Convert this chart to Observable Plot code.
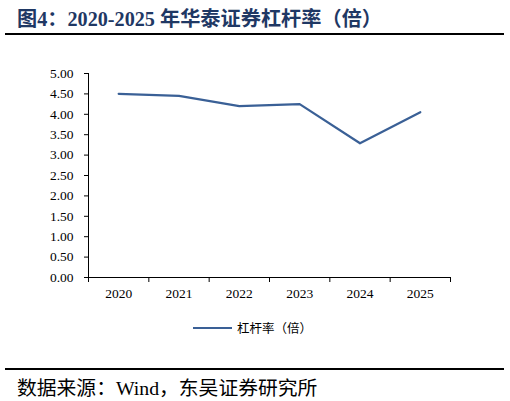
<!DOCTYPE html>
<html>
<head>
<meta charset="utf-8">
<script src="https://cdn.jsdelivr.net/npm/d3@7"></script>
<script src="https://cdn.jsdelivr.net/npm/@observablehq/plot@0.6"></script>
<style>
  body { margin: 0; background: #fff; }
  #page { position: relative; width: 510px; height: 401px; overflow: hidden; font-family: "Liberation Serif", "Noto Sans CJK SC", serif; }
  #titulo { position: absolute; left: 17px; top: 3px; font-size: 20.2px; font-weight: bold; color: #1f3864; font-family: "Liberation Serif", "Noto Sans CJK SC", serif; white-space: nowrap; }
  .regla { position: absolute; left: 5px; width: 499px; height: 2px; background: #000; }
  #grafico { position: absolute; left: 0; top: 40px; }
  #leyenda { position: absolute; left: 193px; top: 318px; font-size: 12.5px; font-family: "Noto Sans CJK SC", sans-serif; display: flex; align-items: center; white-space: nowrap; }
  #leyenda span.linea { display: inline-block; width: 39px; height: 2px; background: #3a6096; margin-right: 5px; }
  #fuente { position: absolute; left: 17px; top: 372px; font-size: 19.8px; font-family: "Liberation Serif", "Noto Sans CJK SC", serif; white-space: nowrap; }
</style>
</head>
<body>
<div id="page">
  <div id="titulo">图4：2020-2025 年华泰证券杠杆率（倍）</div>
  <div class="regla" style="top:33px"></div>
  <div id="grafico"></div>
  <div id="leyenda"><span class="linea"></span>杠杆率（倍）</div>
  <div class="regla" style="top:368px"></div>
  <div id="fuente">数据来源：Wind，东吴证券研究所</div>
</div>
<script>
// datos
const years = [2020, 2021, 2022, 2023, 2024, 2025];
const leverage = [4.50, 4.45, 4.20, 4.25, 3.29, 4.05];
const yTicks = [0, 0.5, 1, 1.5, 2, 2.5, 3, 3.5, 4, 4.5, 5];

const data = years.map((y, i) => ({year: y, value: leverage[i]}));
// limites de cada categoria (las marcas del eje x van entre años)
const bordes = [...years.map(y => y - 0.5), years[years.length - 1] + 0.5];

const chart = Plot.plot({
  width: 510,
  height: 267,
  marginTop: 33,
  marginBottom: 30,
  marginLeft: 88,
  marginRight: 60,
  style: { fontSize: "13.5px", fontFamily: "Liberation Serif, serif", color: "#000" },
  x: { domain: [bordes[0], bordes[bordes.length - 1]] },
  y: { domain: [0, 5] },
  marks: [
    Plot.axisY(yTicks, { tickSize: 4, tickPadding: 11, tickFormat: d => d.toFixed(2), label: null }),
    Plot.axisX(bordes, { tickSize: 5, tickFormat: () => "", label: null }),
    Plot.axisX(years, { tickSize: 0, tickPadding: 11, tickFormat: d => String(d), label: null }),
    Plot.ruleX([bordes[0]], { stroke: "#000" }),
    Plot.ruleY([0], { stroke: "#000" }),
    Plot.line(data, { x: "year", y: "value", stroke: "#3a6096", strokeWidth: 2.2 })
  ]
});

d3.select('#grafico svg').remove()
d3.select('#grafico').append(() => chart)
</script>
</body>
</html>
